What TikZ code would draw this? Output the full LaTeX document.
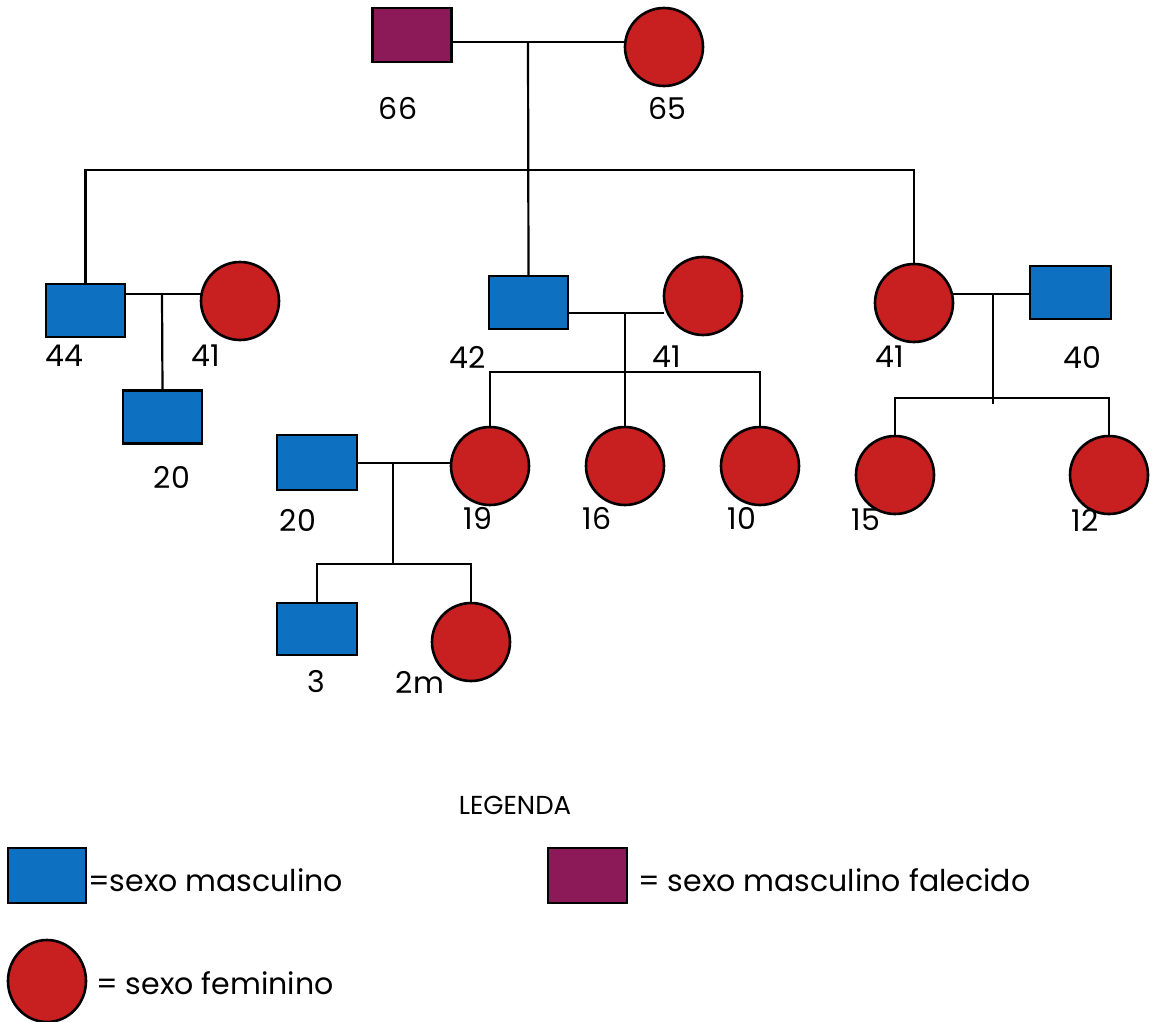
\documentclass[tikz,border=0pt]{standalone}
\usepackage{fontspec}
\setmainfont{Poppins}
\usetikzlibrary{shapes.geometric}
\definecolor{maleblue}{RGB}{14,112,192}
\definecolor{femred}{RGB}{200,32,32}
\definecolor{deadpurple}{RGB}{140,26,88}
\tikzset{
  shp/.style={draw=black, line width=2.6pt, inner sep=0pt, outer sep=0pt},
  male/.style={shp, rectangle, fill=maleblue, minimum width=79pt, minimum height=53pt},
  dead/.style={shp, rectangle, fill=deadpurple, minimum width=79pt, minimum height=54pt},
  female/.style={shp, circle, fill=femred, minimum size=78pt},
  link/.style={draw=black, line width=2.2pt},
  age/.style={font=\fontsize{30}{34}\selectfont, inner sep=0pt},
  legtext/.style={font=\fontsize{30}{34}\selectfont, inner sep=0pt, anchor=west}
}
\begin{document}
\begin{tikzpicture}[x=1pt, y=-1pt]
\useasboundingbox (0,0) rectangle (1156,1022);

% generation I
\node[dead] (p66) at (412,35) {};
\node[female] (p65) at (664,47) {};

% generation II
\node[male] (p44) at (85.5,310.5) {};
\node[female] (p41a) at (240,301) {};
\node[male] (p20a) at (162.5,417) {};
\node[male] (p42) at (528.5,302.5) {};
\node[female] (p41b) at (703,296) {};
\node[female] (p41c) at (914,303) {};
\node[male, minimum width=81pt] (p40) at (1070.5,292.5) {};

% generation III
\node[male, minimum width=80pt, minimum height=55pt] (p20b) at (317,462.5) {};
\node[female] (p19) at (490,466) {};
\node[female] (p16) at (625,466) {};
\node[female] (p10) at (760,466) {};
\node[female] (p15) at (895,475) {};
\node[female] (p12) at (1109,475) {};

% generation IV
\node[male, minimum width=80pt, minimum height=52pt] (p3) at (317,629) {};
\node[female] (p2m) at (471,642) {};

% junction points
\coordinate (u1) at (528,42);
\coordinate (s1) at (528,170);
\coordinate (u2) at (162,294);
\coordinate (u3) at (625,313);
\coordinate (s3) at (625,372);
\coordinate (u4) at (993,294);
\coordinate (s4) at (993,398);
\coordinate (e4) at (993,404);
\coordinate (u5) at (393,463);
\coordinate (s5) at (393,564);

% couples and descent lines
\draw[link] (p66.east |- u1) -- (p65.west |- u1);
\draw[link] (u1) -- (p42.north);
\draw[link] (p44.north) |- (s1) -| (p41c.north);

\draw[link] (p44.east |- u2) -- (p41a.west |- u2);
\draw[link] (u2) -- (p20a.north);

\draw[link] (p42.east |- u3) -- (p41b.west |- u3);
\draw[link] (u3) -- (p16.north);
\draw[link] (p19.north) |- (s3) -| (p10.north);

\draw[link] (p41c.east |- u4) -- (p40.west |- u4);
\draw[link] (u4) -- (e4);
\draw[link] (p15.north) |- (s4) -| (p12.north);

\draw[link] (p20b.east |- u5) -- (p19.west |- u5);
\draw[link] (u5) -- (s5);
\draw[link] (p3.north) |- (s5) -| (p2m.north);

% ages
\node[age] (a66) at (398,108) {66};
\node[age] (a65) at (667,108) {65};
\node[age] (a44) at (64,356) {44};
\node[age] (a41a) at (206,356) {41};
\node[age] (a20a) at (172,477) {20};
\node[age] (a42) at (468,357) {42};
\node[age] (a41b) at (667,357) {41};
\node[age] (a41c) at (890,357) {41};
\node[age] (a40) at (1082,357) {40};
\node[age] (a19) at (478,518) {19};
\node[age] (a16) at (597,518) {16};
\node[age] (a10) at (742,518) {10};
\node[age] (a15) at (866,520) {15};
\node[age] (a12) at (1085,520) {12};
\node[age] (a20b) at (298,520) {20};
\node[age] (a3) at (316,682) {3};
\node[age] (a2m) at (420,682) {2m};

% legend
\node[legtext, anchor=center, font=\fontsize{26}{30}\selectfont] (legtitle) at (515,805) {LEGENDA};
\node[male, minimum width=78pt, minimum height=55pt] (kmale) at (47,875.5) {};
\node[legtext] (tmale) at (88,880) {=sexo masculino};
\node[dead, minimum width=79pt, minimum height=55pt] (kdead) at (587.5,875.5) {};
\node[legtext] (tdead) at (638,880) {= sexo masculino falecido};
\node[shp, ellipse, fill=femred, minimum width=78pt, minimum height=82pt] (kfem) at (47,981) {};
\node[legtext] (tfem) at (96,983) {= sexo feminino};
\end{tikzpicture}
\end{document}
